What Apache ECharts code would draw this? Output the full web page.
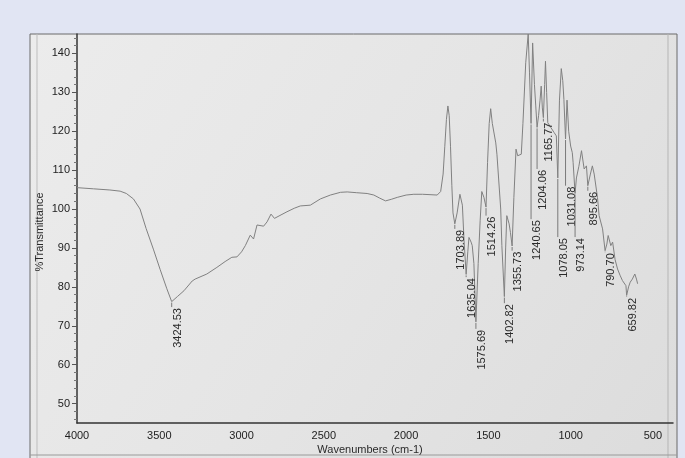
<!DOCTYPE html>
<html>
<head>
<meta charset="utf-8">
<script src="https://cdn.jsdelivr.net/npm/echarts@6/dist/echarts.min.js"></script>
<style>
html,body{margin:0;padding:0;background:#e1e5f3;}
#c{width:685px;height:458px;}
</style>
</head>
<body>
<div id="c"></div>
<script>
// Spectrum: wavenumber (cm-1) and %Transmittance
const wavenumbers = [4000,3900,3800,3738,3700,3657,3617,3580,3536,3495,3454,3424.53,3390,3350,3300,3282,3211,3150,3100,3059,3028,3000,2977,2947,2927,2906,2866,2845,2821,2800,2760,2724,2680,2643,2582,2521,2460,2399,2358,2300,2237,2196,2160,2125,2090,2054,2000,1953,1900,1811,1790,1775,1765,1755,1746,1738,1730,1722,1715,1703.89,1690,1673,1658,1648,1635.04,1625,1618,1605,1598,1588,1575.69,1562,1550,1540,1527,1514.26,1505,1495,1486,1476,1466,1455,1448,1438,1425,1418,1402.82,1395,1388,1374,1366,1355.73,1345,1332,1322,1300,1290,1273,1258,1250,1240.65,1231,1220,1212,1204.06,1195,1186,1179,1172,1165.77,1158,1153,1146,1139,1121,1101,1087,1078.05,1068,1057,1048,1041,1031.08,1022,1012,1000,990,985,973.14,965,950,934,918,904,895.66,880,868,857,847,837,827,806,790.70,780,772,756,745,730,715,700,685,664,659.82,648,638,625,610,600,593];
const transmittance = [105.5,105.2,104.9,104.6,104.0,102.6,100,95,89.7,84.5,79.5,76.2,77.5,79,81.5,82,83.3,85,86.5,87.6,87.7,89,90.6,93.3,92.3,95.9,95.6,96.7,98.7,97.6,98.5,99.3,100.2,100.8,101,102.6,103.6,104.3,104.4,104.2,104,103.6,102.8,102.1,102.5,103,103.6,103.8,103.8,103.6,104.5,109,116,123,126.5,124,116,106,99,96.2,99,103.8,101,92,83.2,89,92.7,91.5,90.6,86,71,86,97,104.5,103,100.5,112,122,125.8,122,122.2,117,114.1,113.7,100,90.6,77.5,90,98.3,96.2,94,90.5,103,115.4,113.7,114.1,122,137.6,145,135,122,142.7,132,126.5,121,124,128,131.6,126,123.5,132,138,130,122.2,121,119.7,118.8,108,128,136.1,133,128.2,118,128,120,116.2,114.5,112,104,108,111,115,110.3,111.1,106,109,111.1,109,108.6,103,98.3,94.9,89.3,91,93.2,90.6,91.5,87,84.6,83,81.6,80.3,77.8,80,81.2,82,83.3,82,80.8];

// Peak annotations
const peakWn    = [3424.53,1703.89,1635.04,1575.69,1514.26,1402.82,1355.73,1240.65,1204.06,1165.77,1078.05,1031.08,973.14,895.66,790.70,659.82];
const peakLabelTop = [74.8,94.9,82.5,69.2,98.3,75.8,89.3,97.4,110.3,122.5,92.8,106,92.8,104.7,88.9,77.4];
const peakText  = ["3424.53","1703.89","1635.04","1575.69","1514.26","1402.82","1355.73","1240.65","1204.06","1165.77","1078.05","1031.08","973.14","895.66","790.70","659.82"];

const xTicks = [4000,3500,3000,2500,2000,1500,1000,500];
const yTicks = [50,60,70,80,90,100,110,120,130,140];
const yMinorTicks = [];
for (let v = 46; v <= 144; v += 2) if (v % 10 !== 0) yMinorTicks.push(v);

const spectrum = wavenumbers.map((w, i) => [w, transmittance[i]]);
const peakData = peakWn.map((w, i) => {
  const idx = wavenumbers.indexOf(w);
  return [w, transmittance[idx], peakLabelTop[i]];
});

const FONT = 'Liberation Sans, Arial, sans-serif';
const chart = echarts.init(document.getElementById('c'), null, {renderer: 'canvas'});
chart.setOption({
  backgroundColor: '#e1e5f3',
  animation: false,
  graphic: [
    {type: 'rect', z: -10, shape: {x: 30, y: 34, width: 647, height: 430},
     style: {fill: {type: 'linear', x: 0, y: 0, x2: 1, y2: 1, colorStops: [
       {offset: 0, color: '#ececec'}, {offset: 0.5, color: '#e5e5e5'}, {offset: 1, color: '#dcdcdc'}]},
       stroke: '#6a6a6a', lineWidth: 1}},
    {type: 'line', z: -9, shape: {x1: 37, y1: 34, x2: 37, y2: 458}, style: {stroke: '#bdbdbd', lineWidth: 1}},
    {type: 'line', z: -9, shape: {x1: 668, y1: 34, x2: 668, y2: 458}, style: {stroke: '#b5b5b5', lineWidth: 1}},
    {type: 'line', z: -9, shape: {x1: 30, y1: 455, x2: 677, y2: 455}, style: {stroke: '#9a9a9a', lineWidth: 1}},
    {type: 'text', x: 40, y: 232, rotation: Math.PI / 2,
     style: {text: '%Transmittance', fontSize: 11, fontFamily: FONT, fill: '#2a2a2a', align: 'center', verticalAlign: 'middle'}},
    {type: 'text', x: 370, y: 450,
     style: {text: 'Wavenumbers (cm-1)', fontSize: 11, fontFamily: FONT, fill: '#2a2a2a', align: 'center', verticalAlign: 'middle'}}
  ],
  grid: {left: 77, right: 12, top: 34, bottom: 35, containLabel: false},
  xAxis: {
    type: 'value', inverse: true, min: 378, max: 4000,
    axisLine: {show: true, lineStyle: {color: '#333', width: 1.5}},
    axisTick: {show: false, customValues: xTicks},
    axisLabel: {customValues: xTicks, color: '#222', fontSize: 11, fontFamily: FONT, margin: 7,
                formatter: function (v) { return String(v); }},
    splitLine: {show: false}
  },
  yAxis: [
    {type: 'value', min: 45, max: 145, position: 'left',
     axisLine: {show: true, lineStyle: {color: '#333', width: 1.5}},
     axisTick: {show: true, customValues: yTicks, length: 5, inside: false, lineStyle: {color: '#555'}},
     axisLabel: {customValues: yTicks, color: '#222', fontSize: 11, fontFamily: FONT, margin: 7,
                 formatter: function (v) { return String(v); }},
     splitLine: {show: false}},
    {type: 'value', min: 45, max: 145, position: 'left',
     axisLine: {show: false},
     axisTick: {show: true, customValues: yMinorTicks, length: 3, inside: false, lineStyle: {color: '#777'}},
     axisLabel: {show: false},
     splitLine: {show: false}}
  ],
  series: [
    {type: 'line', data: spectrum, showSymbol: false, symbol: 'none', yAxisIndex: 0,
     lineStyle: {color: '#808080', width: 1}, z: 3},
    {type: 'custom', data: peakData, yAxisIndex: 0, encode: {x: 0, y: 1}, z: 4, clip: false,
     renderItem: function (params, api) {
       const w = api.value(0);
       const p1 = api.coord([w, api.value(1)]);
       const p2 = api.coord([w, api.value(2)]);
       return {type: 'group', children: [
         {type: 'line', shape: {x1: p1[0], y1: p1[1] + 1, x2: p1[0], y2: p2[1]}, style: {stroke: '#7a7a7a', lineWidth: 1}},
         {type: 'text', x: p2[0] + 6, y: p2[1] + 1, rotation: Math.PI / 2,
          style: {text: peakText[params.dataIndex], fontSize: 11, fontFamily: FONT, fill: '#2a2a2a', align: 'right', verticalAlign: 'middle'}}
       ]};
     }}
  ]
});
</script>
</body>
</html>
